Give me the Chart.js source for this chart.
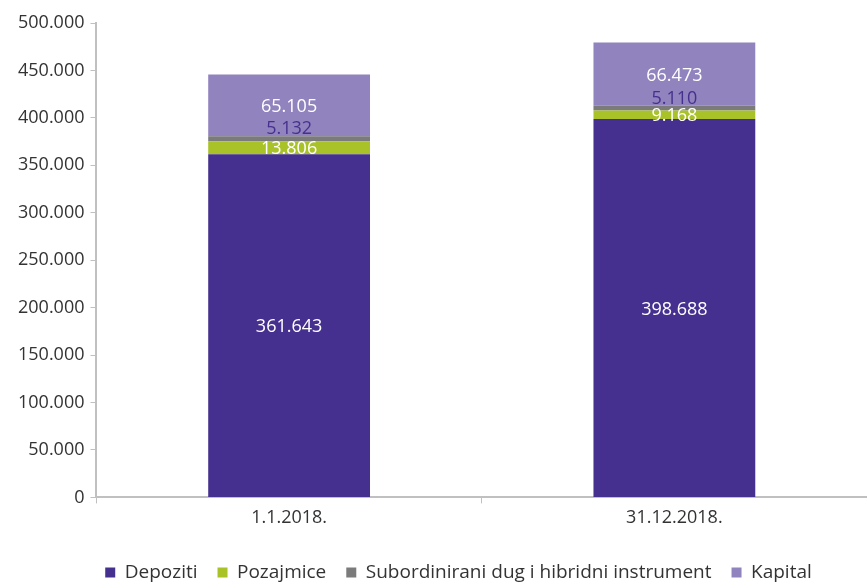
<!DOCTYPE html>
<html>
<head>
<meta charset="utf-8">
<script src="https://cdn.jsdelivr.net/npm/chart.js@4"></script>
<style>
  html, body { margin: 0; padding: 0; background: #fff; }
  #wrap { width: 867px; height: 582px; }
</style>
</head>
<body>
<div id="wrap"><canvas id="chart"></canvas></div>
<script>
// Data
const categories = ['1.1.2018.', '31.12.2018.'];
const depoziti = [361643, 398688];
const pozajmice = [13806, 9168];
const subordinirani = [5132, 5110];
const kapital = [65105, 66473];
const seriesNames = ['Depoziti', 'Pozajmice', 'Subordinirani dug i hibridni instrument', 'Kapital'];

const colors = {
    depoziti: '#46308f',
    pozajmice: '#a9c228',
    sub: '#7b7b7b',
    kapital: '#9183be',
    text: '#333333',
    axis: '#c0c0c0'
};

const fmt = v => Math.round(v).toString().replace(/\B(?=(\d{3})+(?!\d))/g, '.');

Chart.defaults.font.family = '"Open Sans", "Noto Sans", sans-serif';
Chart.defaults.color = colors.text;

// Draw value labels inside the stacked segments
const segmentLabels = {
    id: 'segmentLabels',
    afterDatasetsDraw(chart) {
        const ctx = chart.ctx;
        ctx.save();
        ctx.font = '18px "Open Sans", "Noto Sans", sans-serif';
        ctx.textAlign = 'center';
        ctx.textBaseline = 'middle';
        chart.data.datasets.forEach((ds, i) => {
            const meta = chart.getDatasetMeta(i);
            meta.data.forEach((bar, j) => {
                const mid = (bar.y + bar.base) / 2;
                if (i === 2) {
                    ctx.fillStyle = colors.depoziti;
                    ctx.fillText(fmt(ds.data[j]), bar.x, bar.y - 7);
                } else {
                    ctx.fillStyle = '#ffffff';
                    ctx.fillText(fmt(ds.data[j]), bar.x, mid + 1.5);
                }
            });
        });
        ctx.restore();
    }
};

// Nudge the legend a little right and down, like the original
const legendShift = {
    id: 'legendShift',
    afterLayout(chart) {
        const lg = chart.legend;
        if (!lg) return;
        lg.left += 19;
        lg.right += 19;
        lg.top += 10;
        lg.bottom += 10;
    }
};

new Chart(document.getElementById('chart').getContext('2d'), {
    type: 'bar',
    data: {
        labels: categories,
        datasets: [
            { label: seriesNames[0], data: depoziti, backgroundColor: colors.depoziti },
            { label: seriesNames[1], data: pozajmice, backgroundColor: colors.pozajmice },
            { label: seriesNames[2], data: subordinirani, backgroundColor: colors.sub },
            { label: seriesNames[3], data: kapital, backgroundColor: colors.kapital }
        ]
    },
    options: {
        responsive: true,
        maintainAspectRatio: false,
        animation: false,
        datasets: {
            bar: { categoryPercentage: 1.0, barPercentage: 0.42, borderWidth: 0 }
        },
        layout: { padding: { top: 23, left: 12, right: 0, bottom: 0 } },
        scales: {
            x: {
                stacked: true,
                grid: {
                    display: true,
                    drawOnChartArea: false,
                    drawTicks: true,
                    tickLength: 6,
                    color: colors.axis,
                    offset: true
                },
                border: { color: colors.axis, width: 2 },
                ticks: { font: { size: 18 }, padding: 4 }
            },
            y: {
                stacked: true,
                min: 0,
                max: 500000,
                grid: {
                    display: true,
                    drawOnChartArea: false,
                    drawTicks: true,
                    tickLength: 6,
                    color: colors.axis
                },
                border: { color: colors.axis, width: 2 },
                ticks: {
                    stepSize: 50000,
                    font: { size: 18 },
                    padding: 6,
                    callback: v => fmt(v)
                }
            }
        },
        plugins: {
            legend: {
                position: 'bottom',
                labels: {
                    boxWidth: 10,
                    boxHeight: 10,
                    padding: 20,
                    font: { size: 19 },
                    color: colors.text
                }
            },
            tooltip: { enabled: false }
        }
    },
    plugins: [segmentLabels, legendShift]
});
</script>
</body>
</html>
